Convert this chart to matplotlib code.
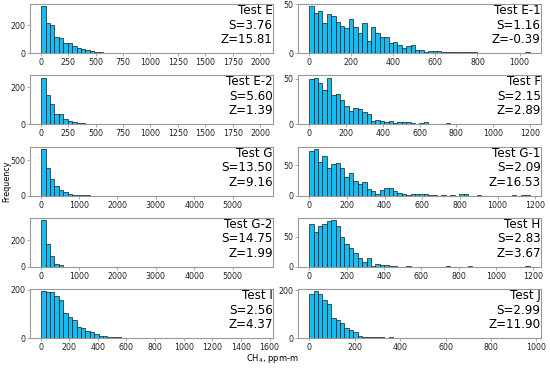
import matplotlib
matplotlib.use('Agg')
import matplotlib.pyplot as plt
import numpy as np

# panel names and stats (left column first, row by row)
names = ['Test E', 'Test E-1', 'Test E-2', 'Test F', 'Test G',
         'Test G-1', 'Test G-2', 'Test H', 'Test I', 'Test J']
skew = ['3.76', '1.16', '5.60', '2.15', '13.50', '2.09', '14.75', '2.83', '2.56', '2.99']
zval = ['15.81', '-0.39', '1.39', '2.89', '9.16', '16.53', '1.99', '3.67', '4.37', '11.90']

# data range of each histogram (50 bins each)
ranges = [(5, 2015), (0, 1048), (5, 2015), (0, 1198), (20, 5760),
          (0, 1170), (20, 5760), (0, 1180), (5, 1545), (0, 970)]

# bin counts
counts_e = [335, 219, 200, 114, 110, 76, 70, 52, 34, 28, 20, 14, 12, 8, 5, 4, 3, 3, 2, 1,
            1, 1, 2, 1, 0, 0, 1, 0, 0, 0, 0, 0, 0, 0, 1, 0, 0, 0, 0, 0,
            0, 0, 0, 0, 0, 0, 0, 0, 0, 1]
counts_e1 = [48, 41, 43, 31, 40, 38, 32, 28, 26, 35, 27, 21, 31, 13, 27, 21, 17, 17, 10, 11,
             8, 5, 7, 8, 3, 3, 1, 2, 2, 2, 1, 1, 1, 1, 1, 1, 1, 1, 0, 0,
             0, 0, 0, 0, 0, 0, 0, 0, 0, 1]
counts_e2 = [250, 156, 111, 58, 55, 27, 20, 14, 9, 10, 4, 3, 2, 2, 1, 2, 1, 3, 1, 1,
             0, 1, 0, 3, 1, 0, 0, 1, 0, 0, 0, 0, 0, 0, 1, 0, 0, 0, 0, 0,
             0, 0, 0, 0, 0, 0, 1, 0, 0, 1]
counts_f = [50, 51, 45, 37, 51, 32, 33, 27, 20, 15, 18, 17, 14, 11, 4, 5, 4, 3, 4, 2,
            3, 3, 3, 2, 1, 2, 3, 1, 0, 0, 0, 2, 0, 0, 1, 0, 0, 0, 1, 0,
            0, 0, 0, 0, 0, 0, 0, 0, 0, 1]
counts_g = [662, 393, 241, 139, 79, 46, 23, 15, 8, 6, 3, 2, 1, 1, 1, 0, 1, 0, 0, 1,
            0, 0, 0, 0, 0, 0, 0, 0, 0, 0, 0, 0, 0, 0, 0, 0, 0, 0, 0, 0,
            0, 0, 0, 0, 0, 0, 0, 0, 0, 1]
counts_g1 = [73, 77, 56, 66, 45, 52, 54, 46, 30, 38, 24, 20, 23, 11, 8, 3, 9, 12, 12, 8,
             4, 2, 1, 2, 2, 2, 2, 1, 1, 0, 1, 0, 1, 0, 2, 2, 0, 0, 1, 0,
             0, 0, 0, 0, 0, 0, 1, 0, 1, 1]
counts_g2 = [350, 172, 80, 25, 17, 2, 3, 2, 1, 1, 0, 1, 0, 0, 1, 0, 0, 0, 1, 0,
             0, 0, 0, 0, 0, 0, 1, 0, 0, 0, 0, 0, 0, 0, 0, 0, 0, 0, 0, 0,
             0, 0, 0, 0, 0, 0, 0, 0, 0, 1]
counts_h = [71, 58, 67, 71, 75, 77, 67, 49, 38, 31, 23, 15, 8, 15, 1, 5, 4, 4, 2, 1,
            0, 0, 1, 0, 0, 0, 0, 0, 0, 0, 0, 1, 0, 0, 0, 0, 1, 0, 0, 0,
            0, 0, 0, 0, 0, 0, 0, 0, 0, 1]
counts_i = [194, 191, 193, 176, 157, 105, 87, 77, 46, 42, 28, 25, 18, 10, 10, 6, 4, 3, 2, 2,
            1, 1, 1, 0, 1, 1, 1, 0, 0, 0, 0, 0, 0, 1, 0, 0, 0, 0, 0, 0,
            0, 0, 0, 0, 0, 0, 0, 0, 0, 1]
counts_j = [186, 195, 186, 161, 143, 84, 77, 63, 42, 35, 24, 11, 7, 3, 7, 7, 3, 2, 3, 2,
            2, 2, 1, 0, 1, 1, 0, 0, 0, 0, 0, 0, 0, 0, 0, 0, 1, 0, 0, 0,
            0, 0, 1, 0, 0, 0, 0, 0, 1, 0]
all_counts = [counts_e, counts_e1, counts_e2, counts_f, counts_g,
              counts_g1, counts_g2, counts_h, counts_i, counts_j]

# axis ticks
xmax_tick = [2000, 1000, 2000, 1200, 5000, 1200, 5000, 1200, 1600, 1000]
xstep = [250, 200, 250, 200, 1000, 200, 1000, 200, 200, 200]
yticks = [[0, 200], [0, 50], [0, 200], [0, 50], [0, 500],
          [0, 50], [0, 200], [0, 50], [0, 200], [0, 200]]

fig, axes = plt.subplots(5, 2, figsize=(5.5, 3.7), dpi=100)
fig.subplots_adjust(left=0.055, right=0.983, top=0.989, bottom=0.086,
                    hspace=0.45, wspace=0.105)

for i, ax in enumerate(axes.flat):
    lo, hi = ranges[i]
    counts = np.array(all_counts[i])
    edges = np.linspace(lo, hi, len(counts) + 1)
    ax.bar(edges[:-1], counts, width=np.diff(edges), align='edge',
           color='#14BDF4', edgecolor='#1a1a1a', linewidth=0.5)
    ax.set_xticks(np.arange(0, xmax_tick[i] + 1, xstep[i]))
    ax.set_yticks(yticks[i])
    ax.tick_params(labelsize=5.7, length=2, width=0.5, pad=1.5,
                   colors='#888888', labelcolor='#222222')
    for sp in ax.spines.values():
        sp.set_color('#999999')
        sp.set_linewidth(0.8)
    ax.text(1.0, 1.0, f'{names[i]}\nS={skew[i]}\nZ={zval[i]}',
            transform=ax.transAxes, ha='right', va='top',
            fontsize=8.6, linespacing=1.15)

fig.text(0.013, 0.51, 'Frequency', rotation=90, ha='center', va='center', fontsize=5.8)
fig.text(0.495, 0.032, 'CH$_4$, ppm-m', ha='center', va='center', fontsize=6)

fig.savefig('out.png', dpi=100)
